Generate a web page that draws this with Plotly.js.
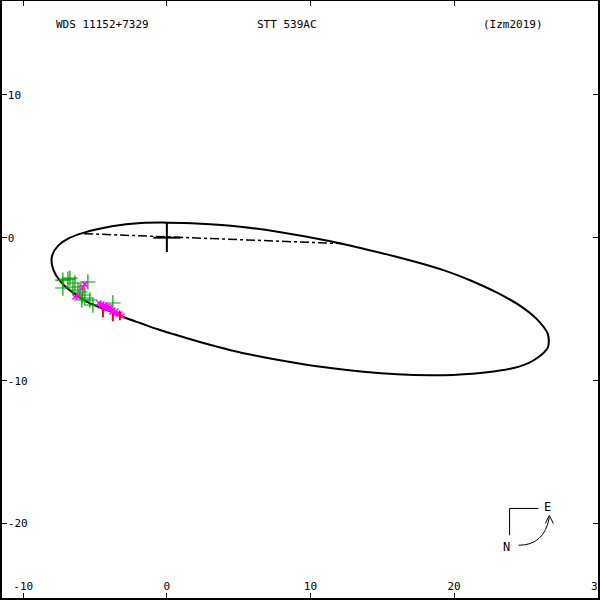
<!DOCTYPE html>
<html><head><meta charset="utf-8">
<script src="https://cdn.plot.ly/plotly-3.0.1.min.js"></script>
<style>html,body{margin:0;padding:0;background:#fff}#plot{width:600px;height:600px}</style>
</head><body><div id="plot"></div>
<script>
// Orbit points (arcsec)
const orbitX = [4.44, 2.36, 0.07, -1.81, -3.82, -5.76, -6.88, -7.57, -7.99, -7.99, -7.71, -7.15, -6.46, -5.49, -4.10, -2.99, -1.81, -0.63, 0.49, 2.36, 4.44, 6.74, 9.10, 11.39, 13.68, 16.04, 18.33, 19.93, 22.29, 24.58, 25.76, 26.53, 26.53, 25.76, 24.58, 22.99, 21.11, 19.51, 18.33, 16.04, 13.68, 11.39, 7.92, 4.44];
const orbitY = [0.84, 0.98, 1.05, 1.02, 0.79, 0.35, -0.07, -0.56, -1.25, -1.95, -2.65, -3.34, -3.90, -4.53, -5.09, -5.57, -5.99, -6.41, -6.76, -7.32, -7.87, -8.36, -8.78, -9.12, -9.38, -9.56, -9.63, -9.60, -9.42, -9.00, -8.43, -7.67, -6.75, -5.70, -4.75, -3.85, -2.98, -2.36, -1.98, -1.35, -0.77, -0.25, 0.38, 0.84];
// Line of nodes
const nodesX = [-5.76, 12.29];
const nodesY = [0.28, -0.42];
// Primary cross
const crossVX = [0, 0], crossVY = [1.05, -1.0];
const crossHX = [-0.95, 0.95], crossHY = [0, 0];
// Observations
const greenX = [-7.24, -6.89, -6.75, -5.50, -7.24, -6.54, -6.19, -5.85, -5.92, -5.71, -5.15, -3.76, -6.40, -6.05, -5.36];
const greenY = [-2.97, -2.90, -2.83, -3.10, -3.52, -3.45, -3.66, -4.01, -4.36, -4.22, -4.71, -4.57, -3.17, -3.80, -4.36];
const magX = [-4.73, -4.52, -4.31, -4.11, -4.38, -4.18, -3.97, -3.76, -3.55, -3.83, -3.41, -3.27, -3.62, -3.13, -3.97, -4.59, -5.85, -5.71, -6.40, -6.19];
const magY = [-4.57, -4.64, -4.71, -4.78, -4.92, -4.99, -4.99, -5.06, -5.13, -5.20, -5.27, -5.34, -5.34, -5.48, -4.85, -4.78, -3.46, -3.25, -4.15, -4.01];
const redX = [-4.45, -3.76, -3.27];
const redY = [-5.27, -5.55, -5.48];
// Tick values / labels
const xTicks = [-10, 0, 10, 20, 30];
const yTicks = [-20, -10, 0, 10];
const titles = ["WDS 11152+7329", "STT 539AC", "(Izm2019)"];

const mono = "DejaVu Sans Mono, monospace";
const traces = [
  {x: orbitX, y: orbitY, mode: "lines", line: {color: "#000", width: 2, shape: "spline", smoothing: 0.8}, hoverinfo: "skip"},
  {x: nodesX, y: nodesY, mode: "lines", line: {color: "#000", width: 1.5, dash: "dashdot"}},
  {x: crossVX, y: crossVY, mode: "lines", line: {color: "#000", width: 2}},
  {x: crossHX, y: crossHY, mode: "lines", line: {color: "#000", width: 2}},
  {x: greenX, y: greenY, mode: "markers", marker: {symbol: "cross-thin", size: 11, line: {color: "#00a000", width: 1.2}}},
  {x: magX, y: magY, mode: "markers", marker: {symbol: "x-thin", size: 5, line: {color: "#ff00ff", width: 1.5}}},
  {x: redX, y: redY, mode: "markers", marker: {symbol: "line-ns", size: 6, line: {color: "#ff0000", width: 2}}},
  {x: [], y: [], xaxis: "x2", yaxis: "y2", mode: "markers", hoverinfo: "skip"}
];

const p = v => v / 600;
const xRange = [-11.48, 30.02], yRange = [-25.20, 16.55];
const axisCommon = {ticks: "inside", ticklen: 5, tickcolor: "#000", tickwidth: 1,
  ticklabelposition: "inside", ticklabeloverflow: "allow", showgrid: false, zeroline: false,
  showline: true, linecolor: "#000", linewidth: 2,
  tickfont: {family: mono, size: 11, color: "#000"}};
const layout = {
  width: 600, height: 600,
  margin: {l: 2, r: 2, t: 1, b: 2},
  paper_bgcolor: "#fff", plot_bgcolor: "#fff",
  showlegend: false,
  font: {family: mono, size: 11, color: "#000"},
  xaxis: Object.assign({range: xRange, tickvals: xTicks, ticktext: xTicks.map(String)}, axisCommon),
  yaxis: Object.assign({range: yRange, tickvals: yTicks, ticktext: yTicks.map(String)}, axisCommon),
  xaxis2: Object.assign({}, axisCommon, {range: xRange, tickvals: xTicks, overlaying: "x", side: "top", anchor: "y2", showticklabels: false, linewidth: 1}),
  yaxis2: Object.assign({}, axisCommon, {range: yRange, tickvals: yTicks, overlaying: "y", side: "right", anchor: "x2", showticklabels: false}),
  annotations: [
    {text: titles[0], x: p(101), y: 1 - p(24)},
    {text: titles[1], x: p(287), y: 1 - p(24)},
    {text: titles[2], x: p(514), y: 1 - p(24)},
    {text: "N", x: p(508), y: 1 - p(549), font: {family: mono, size: 12, color: "#000"}},
    {text: "E", x: p(549), y: 1 - p(509), font: {family: mono, size: 12, color: "#000"}}
  ].map(a => Object.assign({xref: "paper", yref: "paper", xanchor: "center", yanchor: "middle", showarrow: false,
    font: {family: mono, size: 11, color: "#000"}}, a)),
  shapes: [
    {type: "line", xref: "paper", yref: "paper", x0: p(511), y0: 1 - p(510), x1: p(540), y1: 1 - p(510), line: {color: "#000", width: 1}},
    {type: "line", xref: "paper", yref: "paper", x0: p(511), y0: 1 - p(510), x1: p(511), y1: 1 - p(537), line: {color: "#000", width: 1}},
    {type: "path", xref: "paper", yref: "paper",
     path: `M ${p(520)} ${1 - p(547)} Q ${p(546)} ${1 - p(547)} ${p(551)} ${1 - p(519)}`, line: {color: "#000", width: 1}},
    {type: "path", xref: "paper", yref: "paper",
     path: `M ${p(547)} ${1 - p(525)} L ${p(551)} ${1 - p(517)} L ${p(555)} ${1 - p(525)}`, line: {color: "#000", width: 1}}
  ]
};
Plotly.newPlot("plot", traces, layout, {staticPlot: true, displayModeBar: false});
</script></body></html>
